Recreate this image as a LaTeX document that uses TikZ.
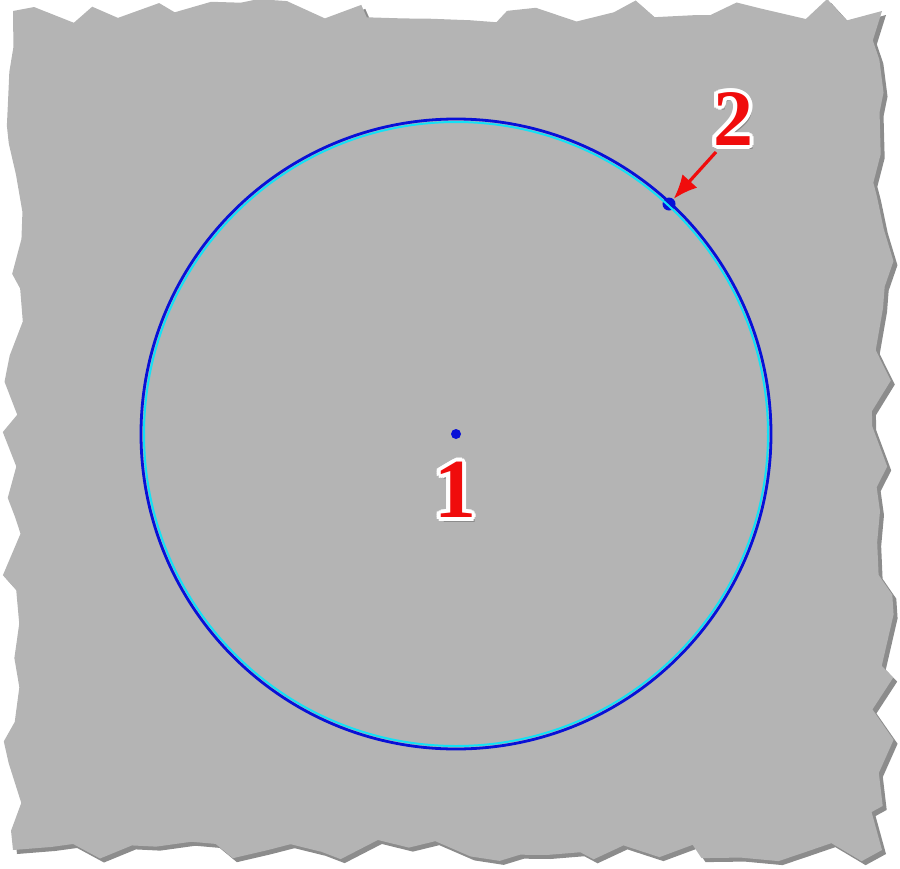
\documentclass[tikz,border=0pt]{standalone}
\usepackage{fontspec}
\setmainfont{Liberation Serif}
\usetikzlibrary{arrows.meta, positioning, decorations.pathmorphing}
\definecolor{SkizzeGrau}{RGB}{180,180,180}
\definecolor{SkizzeBlau}{RGB}{8,16,215}
\definecolor{SkizzeCyan}{RGB}{20,225,245}
\definecolor{SkizzeRot}{RGB}{240,12,12}

\tikzset{
  punkt/.style={shape=circle, fill=SkizzeBlau, inner sep=0pt, minimum size=#1},
  rand/.style={decorate, decoration={random steps, segment length=14pt, amplitude=6pt}},
  marke/.style={font=\fontsize{#1}{#1}\selectfont\bfseries, text=SkizzeRot, inner sep=0pt},
}
% roter Kennbuchstabe mit weissem Rand und Schatten
\newcommand\kennung[4]{%
  \node[marke=#4, text=black!45, shift={(1.8pt,-2.2pt)}] at (#2) {#3};
  \foreach \w in {0,30,...,330}
    \node[marke=#4, text=white, shift={(\w:2pt)}] at (#2) {#3};
  \node[marke=#4] (#1) at (#2) {#3};}

\begin{document}
\begin{tikzpicture}[x=0.5pt, y=-0.5pt]
    \useasboundingbox (0,0) rectangle (900,868);
    % gerissenes Blatt
    \pgfmathsetseed{11}
    \fill[black!45, rand, shift={(4,4)}] (13,11) rectangle (882,850);
    \pgfmathsetseed{11}
    \fill[SkizzeGrau, rand] (13,11) rectangle (882,850);

    \node[punkt=5pt]   (M) at (456,434) {};
    \node[punkt=6.5pt] (P) at (669,204) {};
    \draw[SkizzeCyan, line width=1pt]  (M) circle (312);
    \draw[SkizzeBlau, line width=1.4pt] (M) circle (315);

    \kennung{eins}{455,490}{1}{42}
    \kennung{zwei}{733,119}{2}{40}
    \draw[SkizzeRot, line width=1.6pt, -{Latex[length=12pt, width=10pt]}]
        (716,152) -- (P);
\end{tikzpicture}
\end{document}
